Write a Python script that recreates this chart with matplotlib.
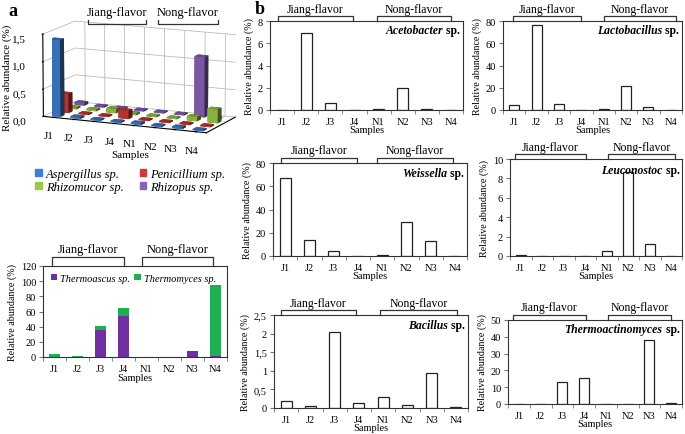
import numpy as np
import matplotlib.pyplot as plt
from matplotlib.lines import Line2D
from matplotlib.ticker import FuncFormatter

plt.rcParams['font.family'] = ['Liberation Serif', 'DejaVu Serif']

W, H = 685, 435
samples = ['J1', 'J2', 'J3', 'J4', 'N1', 'N2', 'N3', 'N4']

# a: fungi, 3D panel
fungi = ['Aspergillus sp.', 'Penicillium sp.', 'Rhizomucor sp.', 'Rhizopus sp.']
aspergillus = [1.40, 0.03, 0.02, 0.02, 0.03, 0.02, 0.03, 0.02]
penicillium = [0.35, 0.02, 0.02, 0.15, 0.02, 0.02, 0.02, 0.02]
rhizomucor = [0.03, 0.03, 0.08, 0.03, 0.02, 0.02, 0.08, 0.25]
rhizopus = [0.05, 0.02, 0.02, 0.02, 0.02, 0.02, 1.10, 0.02]
fungi_colors = ['#3f7fd0', '#d03a36', '#9ac84a', '#8a62b8']

# a: thermophilic fungi, stacked bars
thermoascus = [0, 0.5, 36, 54.5, 0, 0, 8, 1]
thermomyces = [3.5, 0.5, 5.5, 10, 0, 0, 0, 94]

# b: bacteria
acetobacter = [0.03, 6.95, 0.63, 0, 0.05, 1.95, 0.07, 0]
lactobacillus = [4.5, 76, 5.5, 0.2, 0.8, 21.5, 2.5, 0.2]
weissella = [67, 14, 4.3, 0, 0.5, 29.2, 12.9, 0.3]
leuconostoc = [0.12, 0.05, 0.05, 0, 0.5, 8.63, 1.2, 0.02]
bacillus = [0.18, 0.06, 2.03, 0.13, 0.3, 0.09, 0.95, 0.04]
thermoactinomyces = [0, 0, 12.9, 15.3, 0, 0, 38.3, 0.6]

fig = plt.figure(figsize=(W / 100, H / 100), dpi=100)


def px_axes(x0, y0, x1, y1, **kw):
    return fig.add_axes([x0 / W, 1 - y1 / H, (x1 - x0) / W, (y1 - y0) / H], **kw)


def fline(xs, ys, **kw):
    fig.add_artist(Line2D([x / W for x in xs], [1 - y / H for y in ys],
                          color='#333333', lw=0.9, **kw))


def bracket(x0, x1, y, label, leg=5, ty=None, fs=8.5):
    fline([x0, x0, x1, x1], [y + leg, y, y, y + leg])
    if ty is None:
        ty = y - 1.5
    fig.text((x0 + x1) / 2 / W, 1 - ty / H, label, ha='center', va='bottom', fontsize=fs)


def comma(v, pos):
    return ('%g' % v).replace('.', ',')


def style_axes(ax):
    ax.set_xlim(-0.5, 7.5)
    ax.set_xticks(np.arange(len(samples)))
    ax.set_xticklabels(samples)
    ax.set_xticks(np.arange(-0.5, 8, 1), minor=True)
    ax.tick_params(axis='x', which='major', length=0, labelsize=7.5, pad=5)
    ax.tick_params(axis='x', which='minor', length=3, color='#777777')
    ax.tick_params(axis='y', length=3, labelsize=7.5, pad=2, color='#777777')
    ax.set_xlabel('Samples', fontsize=7.5, labelpad=-1)
    ax.set_ylabel('Relative abundance (%)', fontsize=7.2, labelpad=3)
    for s in ax.spines.values():
        s.set_color('#333333')
        s.set_linewidth(0.8)


def bar_panel(box, values, ymax, step, genus, jb, nb, fmt=None):
    ax = px_axes(*box)
    x = np.arange(len(samples))
    ax.bar(x, values, width=0.45, color='white', edgecolor='#222222', linewidth=0.9)
    ax.set_ylim(0, ymax)
    ax.set_yticks(np.arange(0, ymax + step / 2, step))
    if fmt:
        ax.yaxis.set_major_formatter(FuncFormatter(fmt))
    style_axes(ax)
    t = ax.text(0.985, 0.86, ' sp.', transform=ax.transAxes, ha='right', va='baseline',
                fontsize=8.5, weight='bold')
    ax.annotate(genus, xy=(0, 0), xycoords=t, ha='right', va='bottom',
                fontsize=8.5, weight='bold', style='italic')
    y = box[1] - 5
    bracket(jb[0], jb[1], y, 'Jiang-flavor')
    bracket(nb[0], nb[1], y, 'Nong-flavor')
    return ax


bar_panel((270, 22, 463, 111), acetobacter, 8, 2, 'Acetobacter', (278, 353), (377, 451))
bar_panel((503, 22, 682, 111), lactobacillus, 80, 20, 'Lactobacillus', (513, 581), (604, 676))
bar_panel((273, 164, 467, 257), weissella, 80, 20, 'Weissella', (281, 357), (377, 453))
bar_panel((510, 160, 682, 257), leuconostoc, 10, 2, 'Leuconostoc', (515, 586), (608, 675))
bar_panel((274, 316, 468, 409), bacillus, 2.5, 0.5, 'Bacillus', (281, 356), (380, 457), fmt=comma)
bar_panel((508, 321, 682, 405), thermoactinomyces, 50, 10, 'Thermoactinomyces', (513, 586), (608, 671))

# stacked bars
axs = px_axes(43, 267, 227, 358)
x = np.arange(len(samples))
axs.bar(x, thermoascus, width=0.5, color='#7030a0', label='Thermoascus sp.')
axs.bar(x, thermomyces, width=0.5, bottom=thermoascus, color='#1fae52', label='Thermomyces sp.')
axs.set_ylim(0, 120)
axs.set_yticks(np.arange(0, 121, 20))
style_axes(axs)
axs.xaxis.labelpad = 0
axs.legend(loc='upper left', ncol=2, frameon=False, prop={'style': 'italic', 'size': 7.5},
           handlelength=0.6, handleheight=0.6, handletextpad=0.3, columnspacing=0.4,
           borderaxespad=0.35, bbox_to_anchor=(0.0, 1.0))
bracket(52, 124, 258, 'Jiang-flavor', leg=9, fs=9)
bracket(142, 213, 258, 'Nong-flavor', leg=9, fs=9)

# 3D fungi panel
ax3 = px_axes(7, -6, 267, 164, projection='3d')
ax3.set_facecolor('none')
ax3.set_proj_type('persp', focal_length=3)
fungi_vals = [aspergillus, penicillium, rhizomucor, rhizopus]
for k, vals in enumerate(fungi_vals):
    for i in range(len(samples)):
        ax3.bar3d(i - 0.25, k - 0.25, 0, 0.5, 0.5, max(vals[i], 0.02),
                  color=fungi_colors[k], shade=True)
ax3.view_init(elev=12, azim=-66)
ax3.set_xlim(-0.5, 7.5)
ax3.set_ylim(-0.5, 3.5)
ax3.set_zlim(0, 1.5)
ax3.set_box_aspect((4.0, 1.7, 1.9), zoom=1.2)
ax3.set_xticks(np.arange(8))
ax3.set_xticklabels(samples, fontsize=8)
ax3.set_yticks([])
ax3.set_zticks([0, 0.5, 1.0, 1.5])
ax3.zaxis.set_major_formatter(FuncFormatter(lambda v, p: ('%.1f' % v).replace('.', ',')))
ax3.zaxis.set_ticks_position('lower')
ax3.tick_params(axis='z', labelsize=8, pad=0)
ax3.tick_params(axis='x', labelsize=8, pad=1)
for axis in (ax3.xaxis, ax3.yaxis, ax3.zaxis):
    axis.set_pane_color((1, 1, 1, 0))
    axis._axinfo['grid']['color'] = '#bbbbbb'
    axis._axinfo['grid']['linewidth'] = 0.6
    axis.pane.set_edgecolor('#999999')
fig.text(130 / W, 1 - 155 / H, 'Samples', ha='center', va='center', fontsize=8)
fig.text(7 / W, 1 - 78 / H, 'Relative abundance (%)', ha='center', va='center',
         rotation=90, fontsize=8)
bracket(88, 146, 25, 'Jiang-flavor', leg=-4, ty=19, fs=9)
bracket(158, 218, 25, 'Nong-flavor', leg=-4, ty=19, fs=9)

# 3D legend (row-wise order, like the reference)
order = [0, 2, 1, 3]
handles = [plt.Rectangle((0, 0), 1, 1, color=fungi_colors[i]) for i in order]
fig.legend(handles, [fungi[i] for i in order], loc='upper left',
           bbox_to_anchor=(24 / W, 1 - 158 / H), ncol=2, frameon=False,
           prop={'style': 'italic', 'size': 9}, handlelength=0.5, handleheight=0.5,
           handletextpad=0.35, columnspacing=1.3, labelspacing=0.05)

fig.text(8 / W, 1 - 12 / H, 'a', fontsize=13, weight='bold', va='center')
fig.text(255 / W, 1 - 9 / H, 'b', fontsize=13, weight='bold', va='center')

fig.savefig('out.png', dpi=100)
